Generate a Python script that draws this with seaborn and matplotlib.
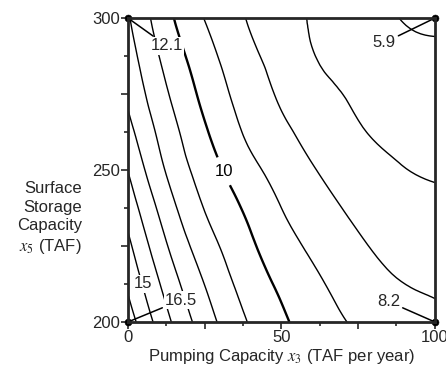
import numpy as np
import pandas as pd
import seaborn as sns
import matplotlib
matplotlib.use("Agg")
import matplotlib.pyplot as plt
import matplotlib.tri as mtri
from matplotlib.ticker import FixedLocator, FuncFormatter

# --------------------------
# Data
# --------------------------
pumping = [0, 12.5, 25, 37.5, 50, 62.5, 75, 87.5, 100]             # x3 (TAF per year)
storage = [200, 212.5, 225, 237.5, 250, 262.5, 275, 287.5, 300]    # x5 (TAF)

# objective value on the grid, one row per storage level
cost_200 = [16.50, 14.26, 12.48, 11.12, 10.17, 9.41, 8.86, 8.48, 8.20]
cost_212 = [15.83, 13.67, 11.98, 10.72, 9.82, 9.09, 8.50, 8.06, 7.88]
cost_225 = [15.23, 13.07, 11.46, 10.34, 9.41, 8.71, 8.14, 7.71, 7.55]
cost_237 = [14.60, 12.49, 10.96, 9.95, 9.00, 8.32, 7.78, 7.39, 7.22]
cost_250 = [13.97, 11.93, 10.54, 9.45, 8.60, 7.95, 7.43, 7.07, 6.90]
cost_262 = [13.32, 11.52, 10.12, 8.97, 8.19, 7.60, 7.08, 6.80, 6.64]
cost_275 = [12.82, 11.10, 9.74, 8.65, 7.87, 7.26, 6.85, 6.53, 6.39]
cost_287 = [12.46, 10.70, 9.39, 8.34, 7.61, 6.94, 6.62, 6.28, 6.13]
cost_300 = [12.10, 10.30, 8.97, 8.05, 7.36, 6.84, 6.43, 6.02, 5.90]

levels = [6, 7, 8, 9, 11, 12, 13, 14, 15, 16]
bold_levels = [10]

x_ticks = [0, 25, 50, 75, 100]
y_ticks = [200, 225, 250, 275, 300]

# --------------------------
# Style
# --------------------------
sns.set_style("ticks")
plt.rcParams['font.family'] = ['Liberation Sans', 'DejaVu Sans']
plt.rcParams['mathtext.fontset'] = 'stix'

width = 4.46   # inches
height = 3.77  # inches
fs = 12

Z = np.array([cost_200, cost_212, cost_225, cost_237, cost_250,
              cost_262, cost_275, cost_287, cost_300])
X, Y = np.meshgrid(pumping, storage)

# smooth contours via matplotlib's triangulation refiner
triang = mtri.Triangulation(X.ravel(), Y.ravel())
interp = mtri.CubicTriInterpolator(triang, Z.ravel(), kind='min_E')
tri_fine, z_fine = mtri.UniformTriRefiner(triang).refine_field(Z.ravel(), triinterpolator=interp,
                                                               subdiv=3)

fig = plt.figure(figsize=(width, height), dpi=100)
ax = fig.add_axes([0.287, 0.146, 0.688, 0.806])

cs = ax.tricontour(tri_fine, z_fine, levels=levels, colors='black', linewidths=1.0)
cs_b = ax.tricontour(tri_fine, z_fine, levels=bold_levels, colors='black', linewidths=1.7)
lbls = ax.clabel(cs_b, fmt='%g', fontsize=fs, inline=True, inline_spacing=6,
                 manual=[(31, 249.5)])
for t in lbls:
    t.set_rotation(0)

# Corner points
corners = pd.DataFrame({'x': [pumping[0], pumping[-1], pumping[0], pumping[-1]],
                        'y': [storage[-1], storage[-1], storage[0], storage[0]],
                        'v': [Z[-1, 0], Z[-1, -1], Z[0, 0], Z[0, -1]]})
sns.scatterplot(data=corners, x='x', y='y', color='black', s=25, ax=ax,
                clip_on=False, zorder=5, edgecolor='black', legend=False)

# Corner value annotations
offsets = [(12.6, 290.9), (83.5, 291.9), (17.3, 207.2), (84.9, 206.7)]
for (cx, cy, cv), (tx, ty) in zip(corners[['x', 'y', 'v']].values, offsets):
    ax.annotate(f'{cv:g}', xy=(cx, cy), xytext=(tx, ty), ha='center', va='center',
                fontsize=fs, annotation_clip=False, zorder=4,
                bbox=dict(fc='white', ec='none', pad=1),
                arrowprops=dict(arrowstyle='-', color='black', lw=1.1,
                                shrinkA=1, shrinkB=0))

# "15" inline label
ax.text(4.9, 212.5, f'{levels[8]:g}', ha='center', va='center', fontsize=fs, zorder=4,
        bbox=dict(fc='white', ec='none', pad=1))

ax.set_xlim(pumping[0], pumping[-1])
ax.set_ylim(storage[0], storage[-1])

ax.xaxis.set_major_locator(FixedLocator(x_ticks))
ax.yaxis.set_major_locator(FixedLocator(y_ticks))
ax.xaxis.set_minor_locator(FixedLocator(pumping))
ax.yaxis.set_minor_locator(FixedLocator(storage))
ax.xaxis.set_major_formatter(FuncFormatter(lambda v, p: f'{v:g}' if v % 50 == 0 else ''))
ax.yaxis.set_major_formatter(FuncFormatter(lambda v, p: f'{v:g}' if v % 50 == 0 else ''))
ax.tick_params(which='major', direction='out', length=5, width=1.2, labelsize=fs, pad=1)
ax.tick_params(which='minor', direction='out', length=3, width=1.2)

for sp in ax.spines.values():
    sp.set_linewidth(2.0)
    sp.set_zorder(6)

ax.set_xlabel('Pumping Capacity $x_3$ (TAF per year)', fontsize=fs, labelpad=1)
ax.set_ylabel('Surface\nStorage\nCapacity\n$x_5$ (TAF)', fontsize=fs, rotation=0,
              ha='right', va='center', linespacing=1.3)
ax.yaxis.set_label_coords(-0.15, 0.34)

plt.savefig('out.png', dpi=100)
plt.close()
